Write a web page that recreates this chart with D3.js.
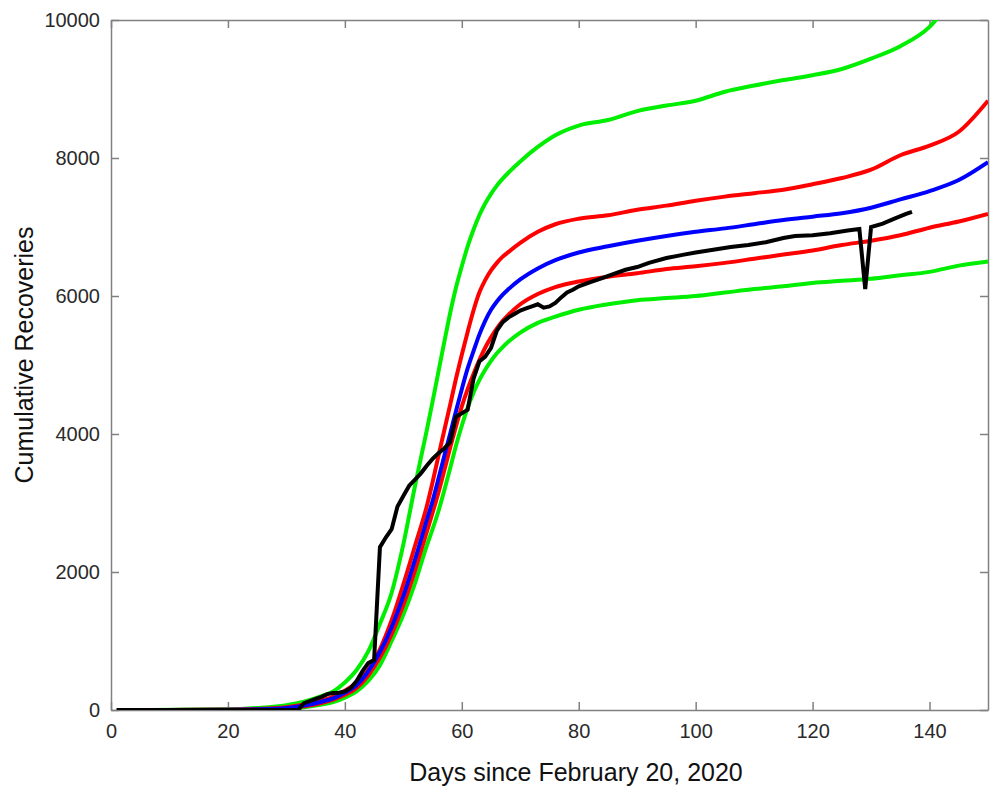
<!DOCTYPE html>
<html>
<head>
<meta charset="utf-8">
<script src="https://cdn.jsdelivr.net/npm/d3@7/dist/d3.min.js"></script>
<style>
  body { margin: 0; background: #fff; }
  svg { display: block; }
  .tick text { font-family: "Liberation Sans", Arial, Helvetica, sans-serif; font-size: 20px; fill: #2a2a2a; }
  .axis-title { font-family: "Liberation Sans", Arial, Helvetica, sans-serif; font-size: 25px; fill: #111; }
</style>
</head>
<body>
<svg id="chart" width="992" height="786"></svg>
<script>
// Days on which the model curves are sampled
const modelDays = [1, 20, 25, 30, 33, 36, 38, 40, 42, 44, 46, 48, 50, 52, 54, 55, 56, 57, 58, 59, 60, 61, 62, 63, 64,
  65, 66, 67, 68, 70, 73, 76, 80, 85, 90, 95, 100, 105, 110, 115, 120, 125, 130, 135, 140, 145, 150];

// Upper bound of the outer band (green)
const upperOuter = [0, 10, 30, 70, 120, 200, 270, 400, 580, 850, 1250, 1700, 2400, 3250, 4050, 4470, 4900, 5330, 5750, 6120, 6430, 6720, 6960, 7170, 7340,
  7480, 7600, 7700, 7790, 7950, 8160, 8330, 8470, 8550, 8680, 8760, 8830, 8960, 9050, 9130, 9200, 9290, 9440, 9620, 9900, 10450, 11100];
// Upper bound of the inner band (red)
const upperInner = [0, 5, 15, 40, 80, 140, 190, 280, 400, 580, 880, 1300, 1820, 2380, 2950, 3300, 3680, 4050, 4420, 4800, 5150, 5480, 5790, 6050, 6230,
  6370, 6480, 6570, 6640, 6770, 6930, 7040, 7120, 7170, 7250, 7310, 7380, 7440, 7490, 7540, 7620, 7710, 7830, 8040, 8180, 8380, 8830];
// Central model prediction (blue)
const central = [0, 4, 10, 30, 65, 120, 170, 250, 360, 560, 840, 1200, 1650, 2180, 2750, 3030, 3350, 3680, 4000, 4330, 4650, 4950, 5200, 5440, 5640,
  5800, 5920, 6020, 6100, 6240, 6400, 6520, 6630, 6720, 6800, 6870, 6930, 6980, 7040, 7100, 7150, 7200, 7280, 7400, 7520, 7680, 7940];
// Lower bound of the inner band (red)
const lowerInner = [0, 3, 8, 25, 55, 100, 150, 220, 320, 500, 760, 1100, 1520, 2020, 2580, 2860, 3150, 3470, 3800, 4110, 4400, 4650, 4870, 5070, 5250,
  5400, 5530, 5640, 5730, 5880, 6030, 6130, 6210, 6280, 6330, 6390, 6430, 6480, 6540, 6600, 6660, 6740, 6800, 6880, 6990, 7080, 7190];
// Lower bound of the outer band (green)
const lowerOuter = [0, 2, 5, 18, 40, 80, 115, 180, 270, 420, 650, 1000, 1380, 1840, 2380, 2620, 2880, 3180, 3500, 3830, 4120, 4380, 4600, 4780, 4930,
  5060, 5170, 5260, 5340, 5470, 5610, 5700, 5800, 5880, 5940, 5970, 6000, 6050, 6100, 6140, 6190, 6220, 6250, 6300, 6350, 6440, 6500];

// Reported cumulative recoveries
const reportedDays = [1, 10, 20, 32, 33, 34, 35, 36, 37, 38, 39, 40, 41, 42, 43, 44, 45, 46, 47, 48, 49, 50,
  51, 52, 53, 54, 55, 56, 57, 58, 59, 60, 61, 62, 63, 64, 65, 66, 67, 68, 69, 70, 71, 72, 73, 74, 75, 76, 77, 78, 79, 80,
  82, 84, 86, 88, 90, 92, 95, 98, 100, 103, 106, 109, 112, 115, 117, 120, 123, 126, 128, 129, 130, 132, 134, 136, 137];
const reported = [0, 0, 0, 0, 100, 130, 160, 190, 230, 246, 250, 270, 320, 420, 560, 680, 725, 2360, 2500, 2620, 2950, 3100,
  3250, 3340, 3430, 3540, 3640, 3720, 3790, 3880, 4250, 4300, 4350, 4800, 5050, 5120, 5250, 5500, 5620, 5690, 5740, 5790, 5820, 5850, 5880, 5830, 5850, 5900, 5980, 6050, 6090, 6140,
  6200, 6260, 6320, 6380, 6420, 6480, 6550, 6600, 6630, 6670, 6710, 6740, 6780, 6840, 6870, 6880, 6910, 6950, 6970, 6100, 7000, 7050, 7120, 7190, 7220];

const xTicks = [0, 20, 40, 60, 80, 100, 120, 140];
const yTicks = [0, 2000, 4000, 6000, 8000, 10000];

const xTitle = "Days since February 20, 2020";
const yTitle = "Cumulative Recoveries";

const frame = { left: 111, right: 988, top: 20, bottom: 710 };
const svg = d3.select("#chart");

const x = d3.scaleLinear().domain([0, 150]).range([frame.left, frame.right]);
const y = d3.scaleLinear().domain([0, 10000]).range([frame.bottom, frame.top]);

svg.append("defs").append("clipPath").attr("id", "plot-clip")
  .append("rect").attr("x", frame.left).attr("y", frame.top)
  .attr("width", frame.right - frame.left).attr("height", frame.bottom - frame.top);

const axisColor = "#808080";
const tickLen = 8;

function styleAxis(g) {
  g.select(".domain").attr("stroke", axisColor).attr("stroke-width", 1.5);
  g.selectAll(".tick line").attr("stroke", axisColor).attr("stroke-width", 1.5);
}

// Bottom axis with labels, ticks pointing inward
svg.append("g").attr("transform", `translate(0,${frame.bottom})`)
  .call(d3.axisBottom(x).tickValues(xTicks).tickFormat(d3.format("d"))
    .tickSizeInner(-tickLen).tickSizeOuter(0).tickPadding(14))
  .call(styleAxis);
// Top axis (ticks only)
svg.append("g").attr("transform", `translate(0,${frame.top})`)
  .call(d3.axisTop(x).tickValues(xTicks).tickFormat("")
    .tickSizeInner(-tickLen).tickSizeOuter(0))
  .call(styleAxis);
// Left axis with labels
svg.append("g").attr("transform", `translate(${frame.left},0)`)
  .call(d3.axisLeft(y).tickValues(yTicks).tickFormat(d3.format("d"))
    .tickSizeInner(-tickLen).tickSizeOuter(0).tickPadding(11))
  .call(styleAxis);
// Right axis (ticks only)
svg.append("g").attr("transform", `translate(${frame.right},0)`)
  .call(d3.axisRight(y).tickValues(yTicks).tickFormat("")
    .tickSizeInner(-tickLen).tickSizeOuter(0))
  .call(styleAxis);

svg.selectAll("g").attr("font-family", null).attr("font-size", null);

// Model curves
const modelSeries = [
  { values: upperOuter, color: "#00ee00" },
  { values: lowerOuter, color: "#00ee00" },
  { values: upperInner, color: "#ff0000" },
  { values: lowerInner, color: "#ff0000" },
  { values: central, color: "#0000ff" }
];

const line = d3.line().x(d => x(d[0])).y(d => y(d[1])).curve(d3.curveMonotoneX);
const plot = svg.append("g").attr("clip-path", "url(#plot-clip)");

modelSeries.forEach(s => {
  plot.append("path")
    .datum(modelDays.map((d, i) => [d, s.values[i]]))
    .attr("fill", "none")
    .attr("stroke", s.color)
    .attr("stroke-width", 4)
    .attr("stroke-linejoin", "round")
    .attr("d", line);
});

// Reported data on top
const dataLine = d3.line().x(d => x(d[0])).y(d => y(d[1]));
plot.append("path")
  .datum(reportedDays.map((d, i) => [d, reported[i]]))
  .attr("fill", "none")
  .attr("stroke", "#000")
  .attr("stroke-width", 4)
  .attr("stroke-linejoin", "miter")
  .attr("d", dataLine);

// Axis titles
svg.append("text").attr("class", "axis-title")
  .attr("x", 576).attr("y", 781).attr("text-anchor", "middle")
  .text(xTitle);
svg.append("text").attr("class", "axis-title")
  .attr("transform", `translate(33,355) rotate(-90)`)
  .attr("text-anchor", "middle")
  .text(yTitle);
</script>
</body>
</html>
